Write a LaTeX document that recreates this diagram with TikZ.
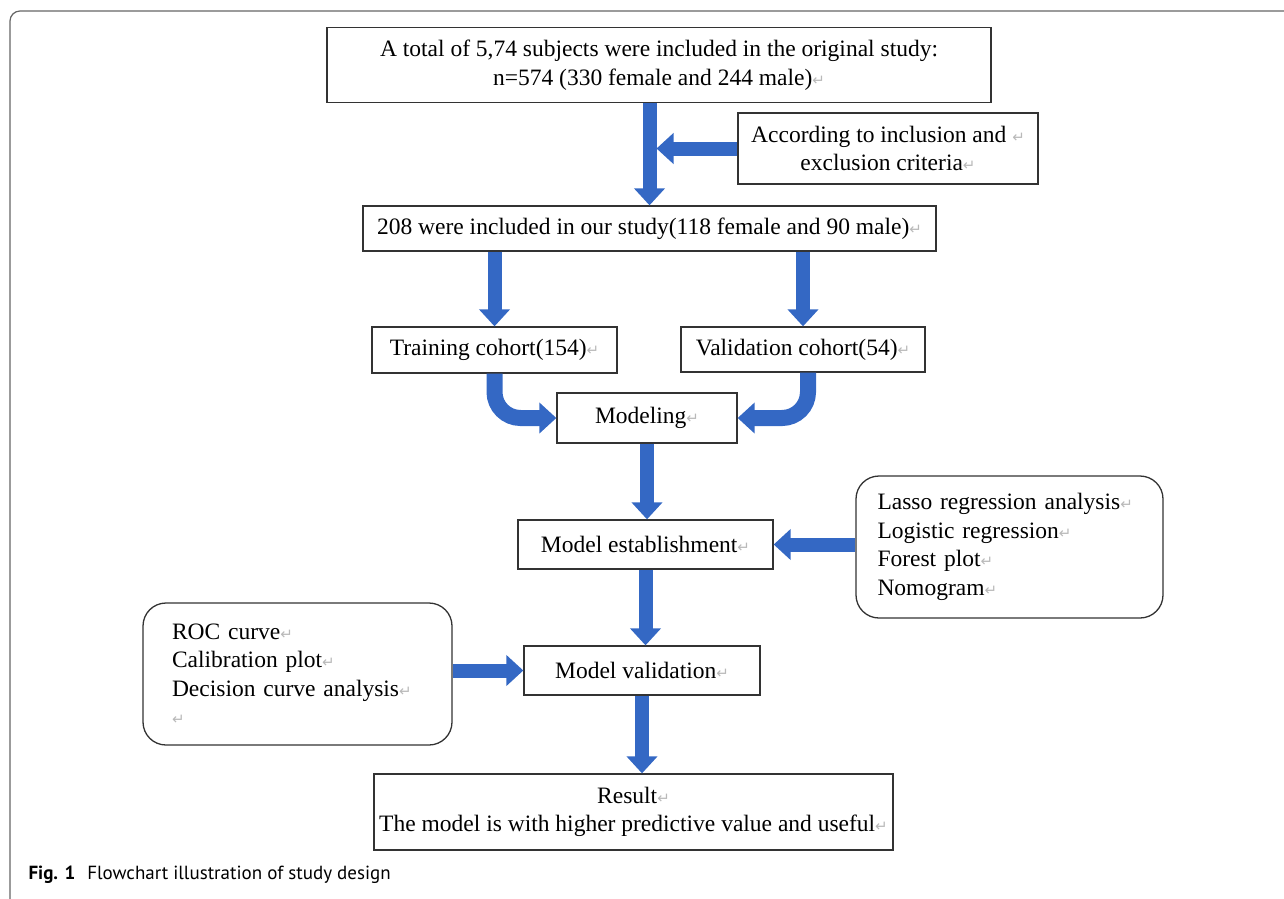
\documentclass[tikz,border=0pt]{standalone}
\usepackage{fontspec}
\setmainfont{Liberation Serif}
\newfontfamily\capfont{PT Sans}
\newfontfamily\markfont{DejaVu Sans}
\usetikzlibrary{arrows.meta}
\definecolor{flowblue}{RGB}{52,104,196}
\newcommand{\crmark}{{\markfont\color{gray!55}\fontsize{15}{15}\selectfont ↵}}

\begin{document}
\begin{tikzpicture}[x=1pt,y=-1pt,
    box/.style={draw=black!80,line width=1.3pt,inner sep=0pt,align=center,
        font=\fontsize{23.5}{28.5}\selectfont},
    listbox/.style={box,rounded corners=23pt,align=left},
    flow/.style={draw=flowblue,line width=14pt,
        -{Triangle[width=30pt,length=17pt]}}]
    \useasboundingbox (0,0) rectangle (1284,898);
    % frame of the figure
    \draw[black!60,line width=1.2pt,rounded corners=10pt] (10,11) rectangle (1300,915);
    % boxes
    \node[box,minimum width=664pt,minimum height=75pt] (total) at (659,65)
        {A total of 5,74 subjects were included in the original study:\\
         n=574 (330 female and 244 male)\crmark};
    \node[box,minimum width=300pt,minimum height=71pt] (crit) at (888,148.5)
        {According to inclusion and \crmark\\ exclusion criteria\crmark};
    \node[box,minimum width=573pt,minimum height=45pt] (incl) at (649.5,228.5)
        {208 were included in our study(118 female and 90 male)\crmark};
    \node[box,minimum width=245pt,minimum height=46pt] (train) at (494.5,350)
        {Training cohort(154)\crmark};
    \node[box,minimum width=244pt,minimum height=45pt] (val) at (803,349.5)
        {Validation cohort(54)\crmark};
    \node[box,minimum width=180pt,minimum height=50pt] (model) at (647,418)
        {Modeling\crmark};
    \node[box,minimum width=255pt,minimum height=49pt] (estab) at (645.5,544.5)
        {Model establishment\crmark};
    \node[listbox,minimum width=307pt,minimum height=142pt,text width=264pt] (lasso) at (1009.5,547)
        {Lasso regression analysis\crmark\\ Logistic regression\crmark\\
         Forest plot\crmark\\ Nomogram\crmark};
    \node[box,minimum width=236pt,minimum height=49pt] (valid) at (642,670.5)
        {Model validation\crmark};
    \node[listbox,minimum width=309pt,minimum height=142pt,text width=251pt] (roc) at (297.5,674)
        {ROC curve\crmark\\ Calibration plot\crmark\\
         Decision curve analysis\crmark\\ \crmark};
    \node[box,minimum width=519pt,minimum height=76pt] (result) at (633.5,812)
        {Result\crmark\\ The model is with higher predictive value and useful\crmark};
    % arrows
    \draw[flow] (total.south -| incl.north) -- (incl.north);
    \draw[flow] (crit.west) -- ([xshift=7pt]crit.west -| incl.north);
    \draw[flow] (incl.south -| train.north) -- (train.north);
    \draw[flow] (incl.south -| val.north) -- (val.north);
    \draw[flow,line width=16pt,rounded corners=26pt] (train.south) |- (model.west);
    \draw[flow,line width=16pt,rounded corners=26pt] ([xshift=5pt]val.south) |- (model.east);
    \draw[flow] (model.south) -- (model.south |- estab.north);
    \draw[flow] (lasso.west |- estab.east) -- (estab.east);
    \draw[flow] (estab.south) -- (estab.south |- valid.north);
    \draw[flow] (roc.east |- valid.west) -- (valid.west);
    \draw[flow] (valid.south) -- (valid.south |- result.north);
    % caption
    \node[anchor=base west,font=\capfont\fontsize{19}{22}\selectfont] (caption) at (25,879)
        {\textbf{Fig. 1}\hspace{12pt}Flowchart illustration of study design};
\end{tikzpicture}
\end{document}
